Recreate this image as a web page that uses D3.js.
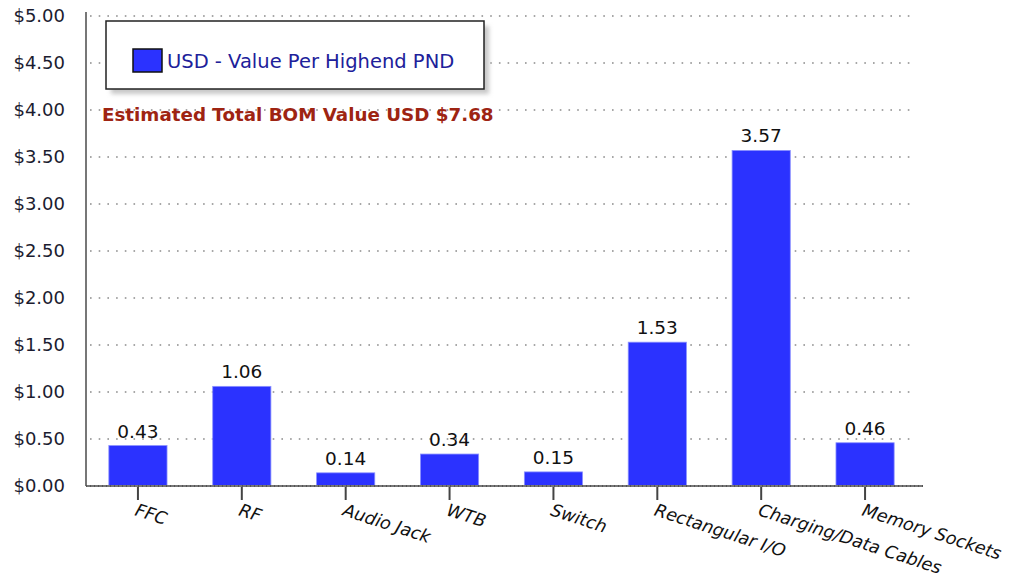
<!DOCTYPE html>
<html>
<head>
<meta charset="utf-8">
<script src="https://cdn.jsdelivr.net/npm/d3@7"></script>
<style>
  body { margin: 0; background: #fff; }
  svg { font-family: "DejaVu Sans", Verdana, sans-serif; }
</style>
</head>
<body>
<div id="chart"></div>
<script>
const categories = ["FFC", "RF", "Audio Jack", "WTB", "Switch", "Rectangular I/O", "Charging/Data Cables", "Memory Sockets"];
const values = [0.43, 1.06, 0.14, 0.34, 0.15, 1.53, 3.57, 0.46];
const yTicks = [0, 0.5, 1, 1.5, 2, 2.5, 3, 3.5, 4, 4.5, 5];
const seriesName = "USD - Value Per Highend PND";
const note = "Estimated Total BOM Value USD $7.68";

const W = 1014, H = 578;
const margin = { top: 16, right: 97, bottom: 92, left: 86 };
const width = W - margin.left - margin.right,
      height = H - margin.top - margin.bottom;

const svg = d3.select("#chart").append("svg")
    .attr("width", W)
    .attr("height", H);
const g = svg.append("g").attr("transform", `translate(${margin.left},${margin.top})`);

const x = d3.scaleBand().domain(categories).range([0, width]).paddingInner(0.44).paddingOuter(0.22);
const y = d3.scaleLinear().domain([0, 5]).range([height, 0]);

// dotted grid
g.append("g")
    .selectAll("line")
    .data(yTicks.filter(d => d > 0))
    .join("line")
    .attr("x1", 4)
    .attr("x2", width - 6)
    .attr("y1", d => y(d))
    .attr("y2", d => y(d))
    .attr("stroke", "#8a8a8a")
    .attr("stroke-width", 1.6)
    .attr("stroke-dasharray", "1.6 7.1");

// y axis labels
g.append("g")
    .selectAll("text")
    .data(yTicks)
    .join("text")
    .attr("x", -21)
    .attr("y", d => y(d))
    .attr("dy", "0.36em")
    .attr("text-anchor", "end")
    .attr("font-size", 18)
    .attr("fill", "#1c1c30")
    .text(d => "$" + d.toFixed(2));

// bars
g.append("g")
    .selectAll("rect")
    .data(values)
    .join("rect")
    .attr("x", (d, i) => x(categories[i]))
    .attr("y", d => y(d))
    .attr("width", x.bandwidth())
    .attr("height", d => height - y(d))
    .attr("fill", "#2b32ff")
    .attr("stroke", "#8a90ff")
    .attr("stroke-width", 0.8);

// value labels
g.append("g")
    .selectAll("text")
    .data(values)
    .join("text")
    .attr("x", (d, i) => x(categories[i]) + x.bandwidth() / 2)
    .attr("y", d => y(d) - 8)
    .attr("text-anchor", "middle")
    .attr("font-size", 18.5)
    .attr("fill", "#111")
    .text(d => d.toFixed(2));

// axes lines
g.append("line")
    .attr("x1", 0).attr("x2", 0)
    .attr("y1", -4).attr("y2", height)
    .attr("stroke", "#777").attr("stroke-width", 2);
g.append("line")
    .attr("x1", 0).attr("x2", width + 6)
    .attr("y1", height).attr("y2", height)
    .attr("stroke", "#777").attr("stroke-width", 2);
g.append("line")
    .attr("x1", 0).attr("x2", width + 6)
    .attr("y1", height).attr("y2", height)
    .attr("stroke", "#333").attr("stroke-width", 1)
    .attr("stroke-dasharray", "1 3");

// x ticks + labels
const xt = g.append("g")
    .selectAll("g")
    .data(categories)
    .join("g")
    .attr("transform", d => `translate(${x(d) + x.bandwidth() / 2},${height})`);
xt.append("line")
    .attr("y1", 1).attr("y2", 14)
    .attr("stroke", "#444").attr("stroke-width", 2);
xt.append("text")
    .attr("transform", "translate(-4,29) rotate(18)")
    .attr("font-size", 17.5)
    .attr("font-style", "italic")
    .attr("fill", "#111")
    .text(d => d);

// legend box with shadow
const lg = svg.append("g").attr("transform", "translate(106,21)");
lg.append("rect")
    .attr("x", 5).attr("y", 5)
    .attr("width", 378).attr("height", 68)
    .attr("fill", "#c8c8c8")
    .attr("filter", "blur(2px)");
lg.append("rect")
    .attr("width", 378).attr("height", 68)
    .attr("fill", "#fff")
    .attr("stroke", "#222").attr("stroke-width", 1.5);
lg.append("rect")
    .attr("x", 27).attr("y", 28)
    .attr("width", 29).attr("height", 23)
    .attr("fill", "#2b32ff")
    .attr("stroke", "#111").attr("stroke-width", 1.5);
lg.append("text")
    .attr("x", 61).attr("y", 47)
    .attr("font-size", 19.5)
    .attr("fill", "#20209a")
    .text(seriesName);

// annotation
svg.append("text")
    .attr("x", 102).attr("y", 121)
    .attr("font-size", 18.3)
    .attr("font-weight", "bold")
    .attr("fill", "#9e2412")
    .text(note);
</script>
</body>
</html>
